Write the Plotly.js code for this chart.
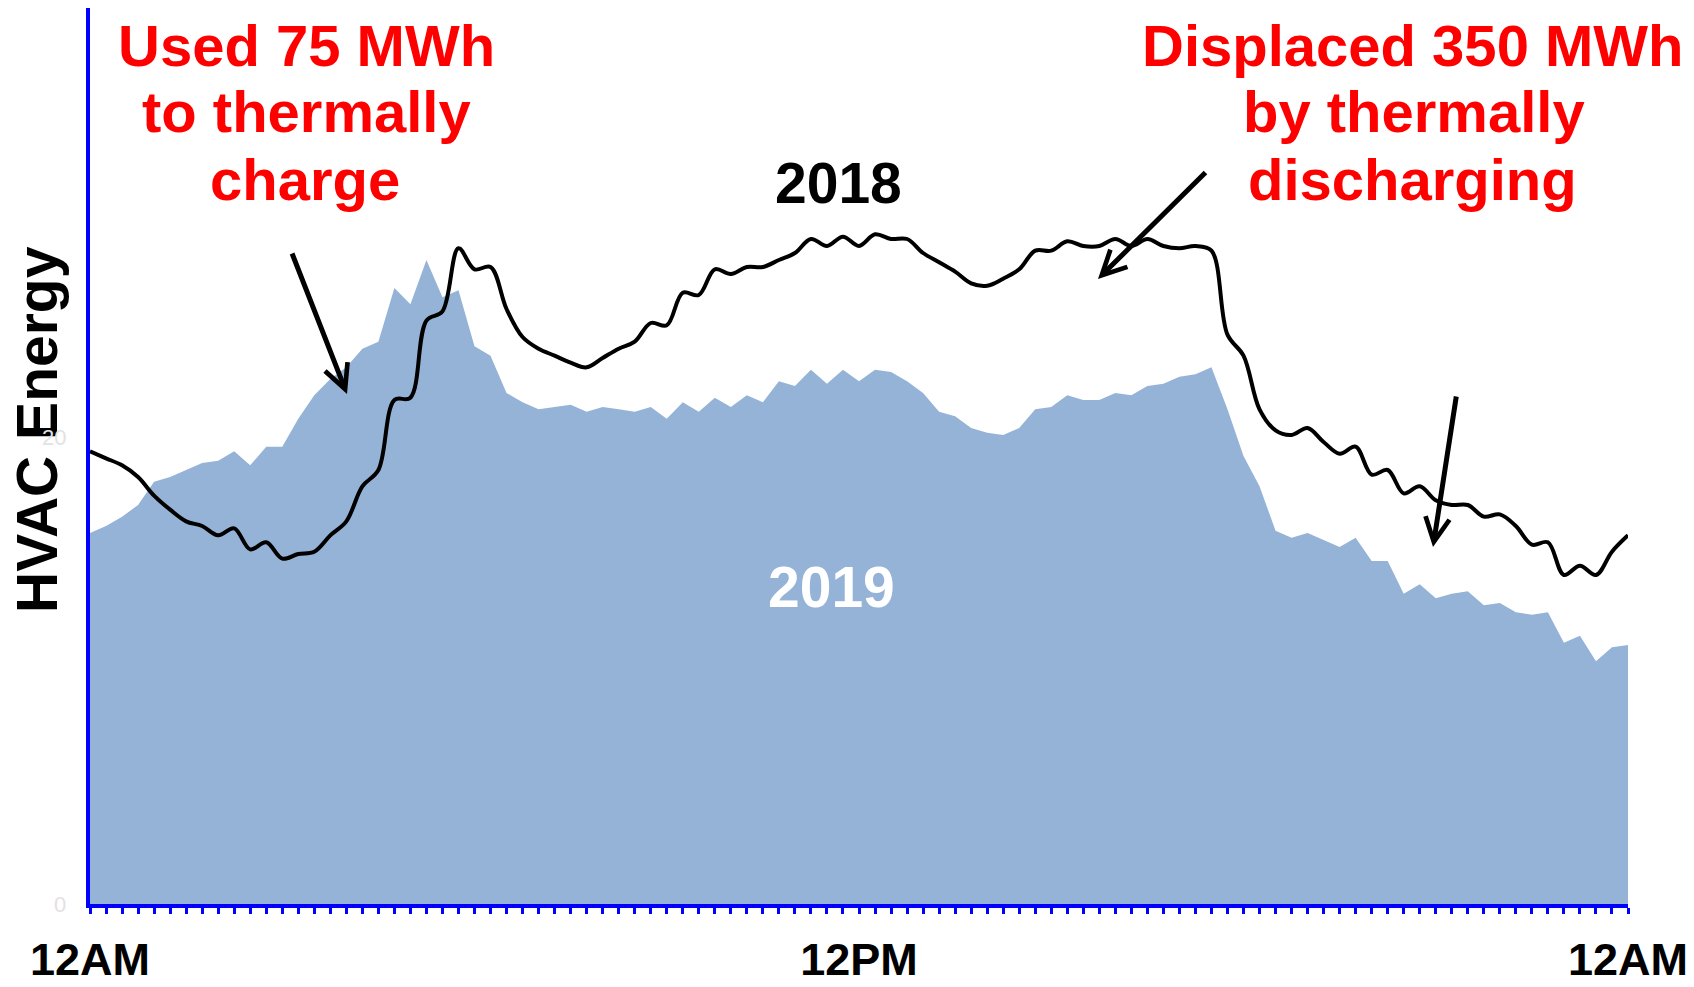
<!DOCTYPE html>
<html>
<head>
<meta charset="utf-8">
<script src="https://cdn.plot.ly/plotly-3.0.1.min.js"></script>
<style>
  html, body { margin: 0; padding: 0; background: #ffffff; }
  #chart { width: 1694px; height: 987px; }
</style>
</head>
<body>
<div id="chart"></div>
<script>
// 15-minute HVAC energy readings, 12AM to 12AM (97 points)
const hvac2019 = [
  15.9,16.2,16.6,17.1,18.1,18.3,18.6,18.9,19.0,19.4,
  18.8,19.6,19.6,20.8,21.8,22.5,23.0,23.8,24.1,26.4,
  25.7,27.6,26.0,26.3,23.9,23.5,21.9,21.5,21.2,21.3,
  21.4,21.1,21.3,21.2,21.1,21.3,20.8,21.5,21.1,21.7,
  21.3,21.8,21.5,22.4,22.2,22.9,22.3,22.9,22.4,22.9,
  22.8,22.4,21.9,21.1,20.9,20.4,20.2,20.1,20.4,21.2,
  21.3,21.8,21.6,21.6,21.9,21.8,22.2,22.3,22.6,22.7,
  23.0,21.2,19.2,17.9,16.0,15.7,15.9,15.6,15.3,15.7,
  14.7,14.7,13.3,13.7,13.1,13.3,13.4,12.8,12.9,12.5,
  12.4,12.5,11.2,11.5,10.4,11.0,11.1
];
const hvac2018 = [
  19.4,19.1,18.8,18.3,17.5,16.9,16.4,16.2,15.8,16.1,
  15.2,15.5,14.8,15.0,15.1,15.8,16.4,17.9,18.6,21.6,
  21.7,25.0,25.4,28.1,27.2,27.3,25.5,24.3,23.8,23.5,
  23.2,23.0,23.4,23.8,24.1,24.9,24.8,26.2,26.1,27.2,
  27.0,27.3,27.3,27.6,27.9,28.5,28.2,28.6,28.2,28.7,
  28.5,28.5,27.9,27.5,27.1,26.6,26.5,26.8,27.2,28.0,
  28.0,28.4,28.2,28.2,28.5,28.2,28.5,28.2,28.1,28.2,
  28.0,24.4,23.5,21.2,20.3,20.1,20.4,19.8,19.3,19.6,
  18.4,18.6,17.6,17.9,17.3,17.1,17.1,16.6,16.7,16.2,
  15.4,15.5,14.1,14.5,14.1,15.1,15.8
];
const tickHours = [0, 12, 24];
const tickLabels = ['12AM', '12PM', '12AM'];
const yTickValues = [0, 20];
const yTitle = 'HVAC Energy';
const leftNote = ['Used 75 MWh', 'to thermally', 'charge'];
const rightNote = ['Displaced 350 MWh', 'by thermally', 'discharging'];

const FONT = 'Liberation Sans, Arial, Helvetica, sans-serif';
const BLUE = '#0000ff';

// plot-area pixel helpers (margins l=90, t=8, plot 1538 x 896)
const L = 90, T = 8, W = 1538, H = 896;
const px = x => (x - L) / W;
const py = y => (T + H - y) / H;

const traces = [
  {
    type: 'scatter', mode: 'lines', name: '2019',
    x0: 0, dx: 0.25, y: hvac2019,
    fill: 'tozeroy', fillcolor: '#95b3d7',
    line: { width: 0, color: '#95b3d7' },
    hoverinfo: 'skip', showlegend: false
  },
  {
    type: 'scatter', mode: 'lines', name: '2018',
    x0: 0, dx: 0.25, y: hvac2018,
    line: { color: '#000000', width: 4, shape: 'spline', smoothing: 1 },
    hoverinfo: 'skip', showlegend: false
  }
];

const annotations = [];
const lineYs = [45.7, 111.7, 179.7];
const leftXs = [306, 306, 305];
const rightXs = [1412, 1414, 1412];
leftNote.forEach((t, i) => annotations.push({
  text: t, xref: 'paper', yref: 'paper', x: px(leftXs[i]), y: py(lineYs[i]),
  xanchor: 'center', yanchor: 'middle', showarrow: false,
  font: { family: FONT, size: 58, color: '#ff0000', weight: 'bold' }
}));
rightNote.forEach((t, i) => annotations.push({
  text: t, xref: 'paper', yref: 'paper', x: px(rightXs[i]), y: py(lineYs[i]),
  xanchor: 'center', yanchor: 'middle', showarrow: false,
  font: { family: FONT, size: 58, color: '#ff0000', weight: 'bold' }
}));
annotations.push({
  text: '2018', xref: 'paper', yref: 'paper', x: px(838), y: py(182.7),
  xanchor: 'center', yanchor: 'middle', showarrow: false,
  font: { family: FONT, size: 57, color: '#000000', weight: 'bold' }
});
annotations.push({
  text: '2019', xref: 'paper', yref: 'paper', x: px(831), y: py(586.7),
  xanchor: 'center', yanchor: 'middle', showarrow: false,
  font: { family: FONT, size: 57, color: '#ffffff', weight: 'bold' }
});
// y-axis title (rotated)
annotations.push({
  text: yTitle, xref: 'paper', yref: 'paper', x: px(37), y: py(430),
  xanchor: 'center', yanchor: 'middle', textangle: -90, showarrow: false,
  font: { family: FONT, size: 57, color: '#000000', weight: 'bold' }
});
// faint value labels on the y axis
yTickValues.forEach(v => annotations.push({
  text: String(v), xref: 'paper', yref: 'y', x: px(68), y: v,
  xanchor: 'right', yanchor: 'middle', showarrow: false,
  font: { family: FONT, size: 22, color: '#e2e2e2' }
}));
// arrows
const arrows = [
  { head: [347, 394], tail: [291.5, 252] },
  { head: [1098, 279], tail: [1207, 171] },
  { head: [1433, 547], tail: [1456.5, 395] }
];
arrows.forEach(a => annotations.push({
  text: '', xref: 'paper', yref: 'paper', x: px(a.head[0]), y: py(a.head[1]),
  ax: a.tail[0] - a.head[0], ay: a.tail[1] - a.head[1],
  showarrow: true, arrowhead: 5, arrowsize: 0.95, arrowwidth: 5,
  arrowcolor: '#000000', standoff: 0
}));

const layout = {
  width: 1694, height: 987,
  margin: { l: L, r: 1694 - L - W, t: T, b: 987 - T - H, pad: 0 },
  paper_bgcolor: '#ffffff', plot_bgcolor: '#ffffff',
  showlegend: false,
  xaxis: {
    range: [0, 24], showgrid: false, zeroline: false,
    showline: true, linecolor: BLUE, linewidth: 4,
    ticks: 'outside', ticklen: 6, tickwidth: 3, tickcolor: BLUE,
    tickvals: tickHours, ticktext: tickLabels,
    tickfont: { family: FONT, size: 45, color: '#000000', weight: 'bold' },
    ticklabelstandoff: 7,
    minor: { ticks: 'outside', dtick: 0.25, tick0: 0, ticklen: 6, tickwidth: 3, tickcolor: BLUE, showgrid: false }
  },
  yaxis: {
    range: [0, 38.4], showgrid: false, zeroline: false,
    showline: true, linecolor: BLUE, linewidth: 4,
    ticks: '', showticklabels: false
  },
  annotations: annotations
};

Plotly.newPlot('chart', traces, layout, { displayModeBar: false, staticPlot: true });
</script>
</body>
</html>
